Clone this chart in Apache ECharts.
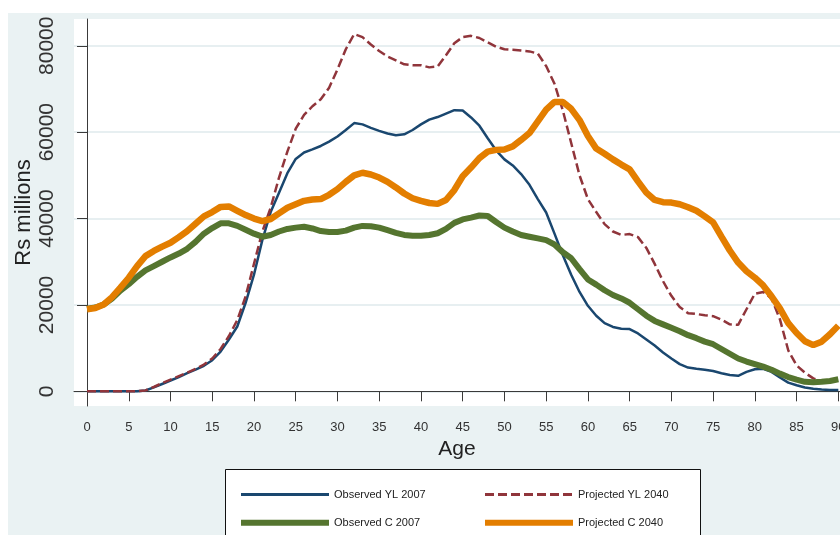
<!DOCTYPE html>
<html>
<head>
<meta charset="utf-8">
<script src="https://cdn.jsdelivr.net/npm/echarts@6/dist/echarts.min.js"></script>
<style>
html, body { margin: 0; padding: 0; background: #fff; }
#chart { width: 840px; height: 535px; }
</style>
</head>
<body>
<div id="chart"></div>
<script>
// Age categories (years)
var ages = [0, 1, 2, 3, 4, 5, 6, 7, 8, 9, 10, 11, 12, 13, 14, 15, 16, 17, 18, 19,
  20, 21, 22, 23, 24, 25, 26, 27, 28, 29, 30, 31, 32, 33, 34, 35, 36, 37, 38, 39,
  40, 41, 42, 43, 44, 45, 46, 47, 48, 49, 50, 51, 52, 53, 54, 55, 56, 57, 58, 59,
  60, 61, 62, 63, 64, 65, 66, 67, 68, 69, 70, 71, 72, 73, 74, 75, 76, 77, 78, 79,
  80, 81, 82, 83, 84, 85, 86, 87, 88, 89, 90];

// Rs millions
var observedYL2007 = [0, 0, 0, 0, 0, 0, 0, 200, 900, 1700, 2500, 3300, 4200, 5000, 5900, 7200, 9200, 12000, 15000, 20500,
  27000, 35000, 41500, 46000, 50500, 53800, 55300, 56000, 56800, 57800, 59000, 60500, 62100, 61800, 61000, 60300, 59700, 59300, 59500, 60500,
  61800, 62900, 63500, 64300, 65100, 65000, 63400, 61500, 58600, 55800, 53700, 52300, 50300, 47800, 44500, 41400, 36500, 31500, 27000, 23000,
  19800, 17500, 15800, 14900, 14500, 14400, 13400, 12000, 10600, 9000, 7600, 6300, 5500, 5200, 5000, 4700, 4200, 3800, 3600, 4500,
  5100, 5200, 4500, 3200, 2000, 1400, 900, 600, 400, 300, 300];

var projectedYL2040 = [0, 0, 0, 0, 0, 0, 0, 200, 1000, 1900, 2700, 3500, 4300, 5200, 6200, 7600, 9800, 12800, 16500, 22000,
  29500, 37000, 42500, 49500, 55500, 60800, 64000, 66000, 67600, 70300, 74500, 79200, 82700, 82000, 80300, 78800, 77500, 76600, 75700, 75500,
  75500, 75000, 75200, 77800, 80600, 82000, 82300, 81800, 80800, 79800, 79200, 79100, 78900, 78700, 78200, 75300, 71200, 65000, 57500, 50000,
  44500, 41500, 38700, 37000, 36200, 36400, 35700, 33200, 29500, 25500, 22100, 19500, 18100, 17900, 17600, 17400, 16600, 15500, 15400, 19000,
  22600, 23000, 21500, 16700, 9500, 6000, 4300, 3000, 2300, 1900, null];

var observedC2007 = [19100, 19400, 20100, 21500, 23300, 24800, 26500, 28000, 29000, 30000, 31000, 31900, 33000, 34600, 36500, 37800, 38900, 38900, 38300, 37400,
  36500, 35800, 36200, 37000, 37600, 37900, 38100, 37700, 37100, 36900, 36900, 37200, 37900, 38300, 38200, 37900, 37300, 36700, 36200, 36000,
  36000, 36200, 36600, 37600, 39000, 39800, 40200, 40700, 40600, 39200, 37900, 37000, 36200, 35800, 35400, 35000, 34000, 32200, 30800, 28300,
  25900, 24700, 23400, 22300, 21500, 20500, 19000, 17500, 16300, 15500, 14700, 13900, 13000, 12300, 11500, 10900, 9800, 8700, 7600, 6900,
  6300, 5700, 5000, 4100, 3300, 2700, 2200, 2100, 2200, 2400, 2800];

var projectedC2040 = [19000, 19300, 20100, 21800, 24000, 26300, 29000, 31300, 32500, 33500, 34400, 35700, 37100, 38800, 40500, 41500, 42700, 42800, 41800, 40800,
  40000, 39400, 39900, 41200, 42500, 43300, 44100, 44400, 44500, 45500, 46800, 48500, 50000, 50600, 50200, 49500, 48500, 47200, 45800, 44700,
  44100, 43600, 43400, 44300, 46600, 49800, 51800, 54000, 55500, 55900, 56000, 56700, 58200, 59800, 62500, 65200, 67000, 67000, 65400, 62800,
  59100, 56200, 55000, 53700, 52500, 51400, 48600, 46000, 44300, 43800, 43700, 43300, 42600, 41800, 40500, 39100, 35800, 32600, 29800, 27800,
  26300, 24500, 22000, 19200, 15800, 13500, 11600, 10700, 11500, 13200, 15200];

var ageTicks = [0, 5, 10, 15, 20, 25, 30, 35, 40, 45, 50, 55, 60, 65, 70, 75, 80, 85, 90];
var valueTicks = [0, 20000, 40000, 60000, 80000];

function pairs(vals) {
  return ages.map(function (a, i) { return [a, vals[i]]; });
}

var myChart = echarts.init(document.getElementById('chart'), null, { renderer: 'canvas' });

var font = 'Liberation Sans, Arial, sans-serif';
var axisColor = '#3a3a3a';
// hide the marker that ECharts puts in the middle of line legend icons
var noMarker = { opacity: 0, borderWidth: 0 };

var option = {
  backgroundColor: '#ffffff',
  animation: false,
  textStyle: { fontFamily: font },
  graphic: [
    // light blue-gray outer region
    { type: 'rect', z: -10, silent: true, shape: { x: 8, y: 13, width: 832, height: 522 }, style: { fill: '#eaf2f3' } },
    // legend box
    { type: 'rect', z: 1, silent: true, shape: { x: 225.5, y: 469.5, width: 475, height: 80 }, style: { fill: '#ffffff', stroke: '#111', lineWidth: 1 } }
  ],
  grid: {
    show: true,
    backgroundColor: '#ffffff',
    borderWidth: 0,
    left: 74, top: 19, right: 0, bottom: 129,
    containLabel: false,
    outerBoundsMode: 'none'
  },
  legend: [
    {
      orient: 'vertical', left: 233, top: 484,
      itemWidth: 88, itemHeight: 14, itemGap: 17,
      textStyle: { fontSize: 11, color: '#222', fontFamily: font },
      data: [
        { name: 'Observed YL 2007', lineStyle: { width: 3 }, itemStyle: noMarker },
        { name: 'Observed C 2007', lineStyle: { width: 6 }, itemStyle: noMarker }
      ]
    },
    {
      orient: 'vertical', left: 477, top: 484,
      itemWidth: 88, itemHeight: 14, itemGap: 17,
      textStyle: { fontSize: 11, color: '#222', fontFamily: font },
      data: [
        { name: 'Projected YL 2040', lineStyle: { width: 3, type: [9, 4] }, itemStyle: noMarker },
        { name: 'Projected C 2040', lineStyle: { width: 6 }, itemStyle: noMarker }
      ]
    }
  ],
  xAxis: {
    type: 'value',
    min: -1.56, max: 90.2,
    name: 'Age',
    nameLocation: 'middle',
    nameGap: 33,
    nameMoveOverlap: false,
    nameTextStyle: { fontSize: 21, color: '#222', fontFamily: font },
    axisLine: { show: true, lineStyle: { color: axisColor, width: 1 } },
    axisTick: { show: true, length: 10, customValues: ageTicks, lineStyle: { color: axisColor } },
    axisLabel: { customValues: ageTicks, fontSize: 13, color: '#333', margin: 15, fontFamily: font },
    splitLine: { show: false }
  },
  yAxis: {
    type: 'value',
    min: -3400, max: 86200,
    name: 'Rs millions',
    nameLocation: 'middle',
    nameRotate: 90,
    nameGap: 39,
    nameMoveOverlap: false,
    nameTextStyle: { fontSize: 22, color: '#222', fontFamily: font },
    axisLine: { show: true, lineStyle: { color: axisColor, width: 1 } },
    axisTick: { show: true, length: 10, customValues: valueTicks, lineStyle: { color: axisColor } },
    axisLabel: {
      customValues: valueTicks, rotate: 90, fontSize: 21, color: '#333', margin: 16, fontFamily: font,
      formatter: function (v) { return String(v); }
    },
    splitLine: { show: true, lineStyle: { color: '#e7eff1', width: 2 } }
  },
  series: [
    {
      name: 'Observed YL 2007', type: 'line', symbol: 'none', z: 2,
      data: pairs(observedYL2007),
      itemStyle: { color: '#1a476f' },
      lineStyle: { color: '#1a476f', width: 2.5 }
    },
    {
      name: 'Projected YL 2040', type: 'line', symbol: 'none', z: 3,
      data: pairs(projectedYL2040),
      itemStyle: { color: '#90353b' },
      lineStyle: { color: '#90353b', width: 2.5, type: [9, 4] }
    },
    {
      name: 'Observed C 2007', type: 'line', symbol: 'none', z: 4,
      data: pairs(observedC2007),
      itemStyle: { color: '#55752f' },
      lineStyle: { color: '#55752f', width: 6 }
    },
    {
      name: 'Projected C 2040', type: 'line', symbol: 'none', z: 5,
      data: pairs(projectedC2040),
      itemStyle: { color: '#e37e00' },
      lineStyle: { color: '#e37e00', width: 6.5 }
    }
  ]
};

myChart.setOption(option);
</script>
</body>
</html>
